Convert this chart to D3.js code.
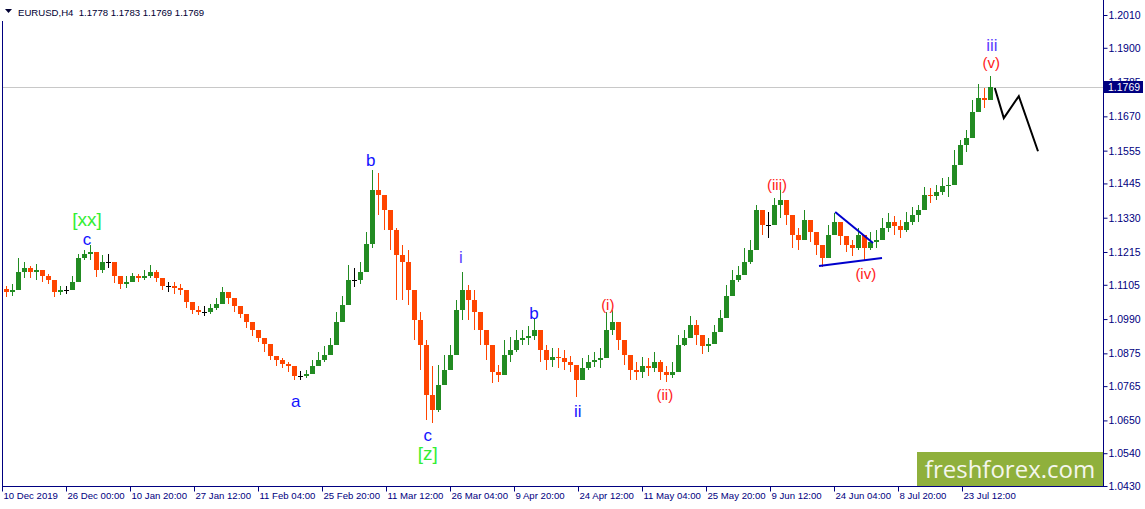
<!DOCTYPE html>
<html><head><meta charset="utf-8">
<script src="https://cdn.jsdelivr.net/npm/d3@7/dist/d3.min.js"></script>
<style>body{margin:0;background:#fff;overflow:hidden}svg{display:block}</style>
</head><body>
<svg id="c" width="1145" height="509"></svg>
<script>
// ---- data (daily aggregation of the EURUSD H4 chart) ----
const firstOpen = 1.1090;
const closes = [
1.1080,1.1087,1.1148,1.1161,1.1148,1.1154,1.1134,1.1121,1.1080,1.1087,
1.1087,1.1114,1.1195,1.1208,1.1215,1.1154,1.1181,1.1181,1.1134,1.1107,
1.1114,1.1134,1.1127,1.1134,1.1148,1.1127,1.1101,1.1101,1.1094,1.1087,
1.1047,1.1020,1.1013,1.1013,1.1027,1.1040,1.1080,1.1060,1.1033,1.1007,
1.0980,1.0953,1.0926,1.0906,1.0866,1.0852,1.0839,1.0832,1.0799,1.0799,
1.0805,1.0832,1.0852,1.0869,1.0903,1.0980,1.1037,1.1121,1.1121,1.1148,
1.1241,1.1423,1.1406,1.1356,1.1288,1.1205,1.1181,1.1087,1.0987,1.0903,
1.0735,1.0685,1.0768,1.0819,1.0869,1.1020,1.1087,1.1054,1.1013,1.0953,
1.0903,1.0812,1.0802,1.0869,1.0886,1.0919,1.0926,1.0933,1.0953,1.0886,
1.0852,1.0862,1.0859,1.0846,1.0836,1.0785,1.0825,1.0846,1.0852,1.0859,
1.0953,1.0980,1.0919,1.0869,1.0819,1.0812,1.0832,1.0825,1.0846,1.0812,
1.0802,1.0812,1.0903,1.0926,1.0970,1.0936,1.0899,1.0906,1.0946,1.0993,
1.1067,1.1121,1.1138,1.1181,1.1221,1.1356,1.1305,1.1305,1.1372,1.1389,
1.1339,1.1272,1.1255,1.1322,1.1282,1.1238,1.1195,1.1272,1.1315,1.1268,
1.1238,1.1228,1.1272,1.1228,1.1248,1.1255,1.1295,1.1315,1.1302,1.1288,
1.1315,1.1339,1.1356,1.1406,1.1403,1.1416,1.1436,1.1439,1.1507,1.1574,
1.1597,1.1684,1.1731,1.1725,1.1769];
const highs = [
1.1101,1.1107,1.1195,1.1181,1.1168,1.1174,1.1154,1.1141,1.1101,1.1101,
1.1101,1.1134,1.1208,1.1221,1.1238,1.1195,1.1205,1.1208,1.1168,1.1131,
1.1134,1.1144,1.1141,1.1154,1.1171,1.1154,1.1121,1.1114,1.1114,1.1107,
1.1074,1.1033,1.1033,1.1033,1.1040,1.1060,1.1097,1.1080,1.1054,1.1033,
1.1000,1.0980,1.0946,1.0926,1.0893,1.0866,1.0859,1.0846,1.0819,1.0815,
1.0819,1.0852,1.0879,1.0899,1.0926,1.1013,1.1067,1.1171,1.1161,1.1181,
1.1282,1.1490,1.1480,1.1403,1.1356,1.1295,1.1238,1.1221,1.1054,1.1013,
1.0919,1.0832,1.0836,1.0869,1.0903,1.1054,1.1148,1.1104,1.1087,1.0993,
1.0953,1.0852,1.0836,1.0919,1.0929,1.0953,1.0953,1.0966,1.0993,1.0936,
1.0903,1.0893,1.0893,1.0886,1.0866,1.0836,1.0859,1.0869,1.0879,1.0893,
1.1013,1.1020,1.0960,1.0903,1.0852,1.0846,1.0862,1.0859,1.0879,1.0852,
1.0832,1.0846,1.0936,1.0953,1.1000,1.0987,1.0919,1.0926,1.0970,1.1020,
1.1104,1.1154,1.1168,1.1228,1.1255,1.1372,1.1346,1.1349,1.1396,1.1423,
1.1383,1.1322,1.1295,1.1356,1.1315,1.1282,1.1238,1.1305,1.1346,1.1305,
1.1262,1.1255,1.1295,1.1268,1.1282,1.1288,1.1329,1.1346,1.1335,1.1322,
1.1349,1.1366,1.1372,1.1433,1.1429,1.1439,1.1463,1.1466,1.1557,1.1590,
1.1624,1.1725,1.1778,1.1765,1.1805];
const lows = [
1.1064,1.1067,1.1111,1.1127,1.1127,1.1121,1.1114,1.1107,1.1064,1.1070,
1.1074,1.1087,1.1161,1.1188,1.1188,1.1131,1.1144,1.1161,1.1111,1.1091,
1.1094,1.1114,1.1114,1.1121,1.1127,1.1114,1.1087,1.1080,1.1074,1.1070,
1.1027,1.1007,1.1003,1.1000,1.1007,1.1020,1.1054,1.1040,1.1013,1.0993,
1.0960,1.0933,1.0913,1.0879,1.0852,1.0832,1.0825,1.0812,1.0785,1.0785,
1.0792,1.0809,1.0832,1.0846,1.0879,1.0946,1.1003,1.1080,1.1097,1.1107,
1.1205,1.1230,1.1339,1.1288,1.1221,1.1054,1.1054,1.1037,1.0919,1.0819,
1.0651,1.0641,1.0678,1.0768,1.0819,1.0953,1.0987,1.0987,1.0953,1.0903,
1.0852,1.0775,1.0778,1.0819,1.0846,1.0879,1.0903,1.0903,1.0919,1.0846,
1.0819,1.0829,1.0825,1.0819,1.0812,1.0728,1.0785,1.0819,1.0829,1.0825,
1.0903,1.0936,1.0886,1.0836,1.0785,1.0785,1.0792,1.0799,1.0812,1.0785,
1.0778,1.0792,1.0852,1.0899,1.0936,1.0903,1.0872,1.0879,1.0919,1.0953,
1.1037,1.1080,1.1114,1.1148,1.1174,1.1288,1.1272,1.1262,1.1315,1.1329,
1.1305,1.1228,1.1221,1.1262,1.1248,1.1205,1.1164,1.1228,1.1272,1.1238,
1.1215,1.1201,1.1221,1.1188,1.1221,1.1228,1.1255,1.1282,1.1272,1.1262,
1.1282,1.1305,1.1315,1.1379,1.1379,1.1389,1.1406,1.1399,1.1439,1.1523,
1.1550,1.1631,1.1684,1.1698,1.1738];

const yTickValues = [1.2010,1.1900,1.1785,1.1670,1.1555,1.1445,1.1330,1.1215,1.1105,1.0990,1.0875,1.0765,1.0650,1.0540,1.0430];
const xTickLabels = ["10 Dec 2019","26 Dec 00:00","10 Jan 20:00","27 Jan 12:00","11 Feb 04:00","25 Feb 20:00","11 Mar 12:00","26 Mar 04:00","9 Apr 20:00","24 Apr 12:00","11 May 04:00","25 May 20:00","9 Jun 12:00","24 Jun 04:00","8 Jul 20:00","23 Jul 12:00"];
const titleText = "EURUSD,H4  1.1778 1.1783 1.1769 1.1769";
const lastPrice = 1.1769;

// wave labels: text, day index, price (label centre), kind
const waveText  = ["[xx]","c","b","a","c","[z]","i","b","ii","(i)","(ii)","(iii)","(iv)","iii","(v)"];
const waveDay   = [13.5,13.5,60.8,48.3,70.3,70.3,75.8,88,95.3,100.3,109.8,128.5,143.3,164.3,164.2];
const wavePrice = [1.1325,1.1258,1.1523,1.0715,1.0600,1.0538,1.1195,1.1010,1.0681,1.1040,1.0738,1.1443,1.1144,1.1909,1.1852];
const waveKind  = ["g","b","b","b","b","g","v","b","b","r","r","r","r","v","r"];

// triangle and projected path
const triUpperDay = [138.2,144.5], triUpperPrice = [1.1349,1.1245];
const triLowerDay = [135.5,146.0], triLowerPrice = [1.1168,1.1195];
const projDay   = [164.8,166.3,168.8,172.0];
const projPrice = [1.1765,1.1664,1.1738,1.1553];

// ---- drawing ----
const svg = d3.select("#c");
const navy = "#000080";
const barsPerDay = 6, barsPerLabel = 64;
const x = d3.scaleLinear().domain([0,1101]).range([2,1103]);
const y = d3.scaleLinear().domain([1.0430,1.2010]).range([486,15]);
const dayX = k => x(k*barsPerDay+4);

// current price line
svg.append("line").attr("x1",2).attr("x2",1103)
  .attr("y1",Math.round(y(lastPrice))+0.5).attr("y2",Math.round(y(lastPrice))+0.5)
  .attr("stroke","#c8c8c8").attr("stroke-width",1);

// candles
const candles = closes.map((c,i)=>({i, o: i===0?firstOpen:closes[i-1], c, h: highs[i], l: lows[i]}));
const col = d => d.c>d.o ? "#228b22" : (d.c<d.o ? "#ff4500" : "#000000");
const g = svg.append("g").attr("shape-rendering","crispEdges");
g.selectAll("line.w").data(candles).join("line")
  .attr("x1",d=>Math.round(dayX(d.i))+0.5).attr("x2",d=>Math.round(dayX(d.i))+0.5)
  .attr("y1",d=>y(Math.max(d.h,d.o,d.c))).attr("y2",d=>y(Math.min(d.l,d.o,d.c)))
  .attr("stroke",col).attr("stroke-width",1);
g.selectAll("rect.b").data(candles).join("rect")
  .attr("x",d=>Math.round(dayX(d.i))-2).attr("width",5)
  .attr("y",d=>y(Math.max(d.o,d.c))).attr("height",d=>Math.max(1,Math.abs(y(d.o)-y(d.c))))
  .attr("fill",col);

// triangle lines
const ln = d3.line().x(d=>dayX(d[0])).y(d=>y(d[1]));
svg.append("path").attr("d",ln(triUpperDay.map((d,i)=>[d,triUpperPrice[i]]))).attr("stroke","#0000cc").attr("stroke-width",2).attr("fill","none");
svg.append("path").attr("d",ln(triLowerDay.map((d,i)=>[d,triLowerPrice[i]]))).attr("stroke","#0000cc").attr("stroke-width",2).attr("fill","none");
svg.append("path").attr("d",ln(projDay.map((d,i)=>[d,projPrice[i]]))).attr("stroke","#000").attr("stroke-width",2).attr("fill","none");

// wave labels
const kindStyle = {g:{fill:"#33ee33",size:19}, b:{fill:"#1414ff",size:17}, v:{fill:"#5a3cff",size:17}, r:{fill:"#ff1a1a",size:15}};
svg.selectAll("text.w").data(waveText).join("text")
  .attr("x",(d,i)=>dayX(waveDay[i])).attr("y",(d,i)=>y(wavePrice[i]))
  .attr("text-anchor","middle").attr("dominant-baseline","central")
  .attr("font-family","Liberation Sans, Arial, sans-serif")
  .attr("font-size",(d,i)=>kindStyle[waveKind[i]].size)
  .attr("fill",(d,i)=>kindStyle[waveKind[i]].fill).text(d=>d);

// logo
svg.append("rect").attr("x",917).attr("y",452).attr("width",186).attr("height",34).attr("fill","#8fb03c");
svg.append("text").attr("x",1010).attr("y",478).attr("text-anchor","middle")
  .attr("font-family","Open Sans, Noto Sans, sans-serif").attr("font-size",24)
  .attr("fill","#f4f6ec").text("freshforex.com");

// frame
svg.append("line").attr("x1",2.5).attr("x2",2.5).attr("y1",0).attr("y2",486).attr("stroke",navy);

// right axis
const yAxis = d3.axisRight(y).tickValues(yTickValues).tickSize(4).tickSizeOuter(0).tickPadding(1).tickFormat(d3.format(".4f"));
const ya = svg.append("g").attr("transform","translate(1103.5,0)").call(yAxis);
ya.select(".domain").attr("stroke",navy).attr("d","M0,0V486.5");
ya.selectAll(".tick line").attr("stroke",navy);
ya.selectAll("text").attr("fill",navy).attr("font-family","Liberation Sans, Arial, sans-serif").attr("font-size",10.5);

// bottom axis
const xAxis = d3.axisBottom(x).tickValues(xTickLabels.map((t,j)=>j*barsPerLabel)).tickSize(5).tickSizeOuter(0).tickFormat((d,j)=>xTickLabels[j]);
const xa = svg.append("g").attr("transform","translate(0,486.5)").call(xAxis);
xa.select(".domain").attr("stroke",navy).attr("d","M2,0H1104");
xa.selectAll(".tick line").attr("stroke",navy);
xa.selectAll("text").attr("fill",navy).attr("text-anchor","start").attr("x",1).attr("y",6)
  .attr("font-family","Liberation Sans, Arial, sans-serif").attr("font-size",9.6);

// last price marker
const ly = Math.round(y(lastPrice));
svg.append("rect").attr("x",1104).attr("y",ly-6).attr("width",39).attr("height",12).attr("fill","#000080");
svg.append("text").attr("x",1108).attr("y",ly).attr("dominant-baseline","central")
  .attr("font-family","Liberation Sans, Arial, sans-serif").attr("font-size",10.5).attr("fill","#fff").text(d3.format(".4f")(lastPrice));

// title
svg.append("rect").attr("x",0).attr("y",0).attr("width",205).attr("height",21).attr("fill","#fff");
svg.append("path").attr("d","M5,9H12L8.5,13Z").attr("fill","#000033");
svg.append("text").attr("x",18).attr("y",16).attr("font-family","Liberation Sans, Arial, sans-serif")
  .attr("font-size",9.6).attr("fill","#000033").text(titleText).style("white-space","pre");
</script>
</body></html>
